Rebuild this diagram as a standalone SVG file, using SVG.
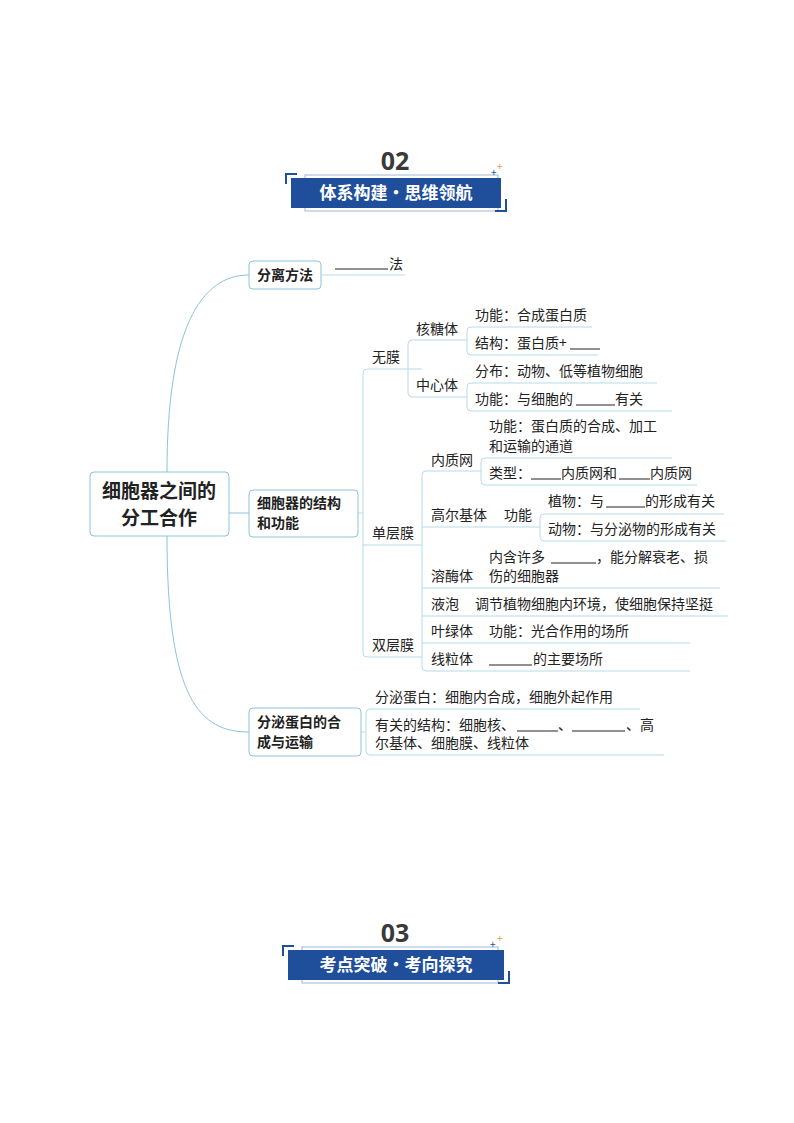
<svg xmlns="http://www.w3.org/2000/svg" width="794" height="1123" viewBox="0 0 794 1123">
<style>
text{font-family:"Noto Sans CJK SC","Noto Sans",sans-serif;fill:#222}
.t{font-size:14px}
.b{font-size:14px;font-weight:bold}
.r{font-size:19px;font-weight:bold}
.num{font-size:25px;font-weight:bold;fill:#3a3a3a;font-family:"Open Sans","Noto Sans",sans-serif}
.hd{font-size:17px;font-weight:bold;fill:#fff}
.ln{fill:none;stroke:#b6dbe8;stroke-width:1}
.cv{fill:none;stroke:#8cc3da;stroke-width:1}
.bx{fill:#fff;stroke:#8cc3da;stroke-width:1}
.bl{stroke:#222;stroke-width:1}
.br{fill:none;stroke:#1f4e9a;stroke-width:2}
</style>
<rect width="794" height="1123" fill="#fff"/>
<g id="header02">
<text class="num" x="395" y="170" text-anchor="middle">02</text>
<rect x="305" y="175" width="193" height="36" fill="none" stroke="#9fb6d6" stroke-width="1"/>
<rect x="291" y="178" width="210" height="30" fill="#1f4e9a"/>
<path class="br" d="M286 184 V174 H297"/>
<path class="br" d="M506 199 V211 H495"/>
<text x="491" y="176" font-size="10" style="fill:#1f4e9a">+</text>
<text x="497" y="170" font-size="10" style="fill:#e0a040">+</text>
<text class="hd" x="396" y="199" text-anchor="middle">体系构建•思维领航</text>
</g>
<g id="header03">
<text class="num" x="395" y="942" text-anchor="middle">03</text>
<rect x="302" y="947" width="196" height="36" fill="none" stroke="#9fb6d6" stroke-width="1"/>
<rect x="288" y="950" width="216" height="30" fill="#1f4e9a"/>
<path class="br" d="M283 956 V946 H294"/>
<path class="br" d="M509 971 V983 H498"/>
<text x="490" y="948" font-size="10" style="fill:#1f4e9a">+</text>
<text x="497" y="942" font-size="10" style="fill:#e0a040">+</text>
<text class="hd" x="396" y="971" text-anchor="middle">考点突破•考向探究</text>
</g>
<g id="connectors">
<path class="cv" d="M167 472 C167 330 200 275 249 275"/>
<path class="cv" d="M167 536 C167 700 200 732 249 732"/>
<path class="cv" d="M229 513 H249"/>
<path class="ln" d="M321 275 H405"/>
<path class="ln" d="M358 513 H363"/>
<path class="ln" d="M422 369 H367 Q363 369 363 373 V653 Q363 657 367 657 H422"/>
<path class="ln" d="M363 545 H422"/>
<path class="ln" d="M467 340 H412 Q408 340 408 344 V393 Q408 397 412 397 H467"/>
<path class="ln" d="M592 327 H471 Q467 327 467 331 V351 Q467 355 471 355 H598"/>
<path class="ln" d="M657 383 H471 Q467 383 467 387 V407 Q467 411 471 411 H672"/>
<path class="ln" d="M481 471 H426 Q422 471 422 475 V667 Q422 671 426 671 H690"/>
<path class="ln" d="M422 527 H540"/>
<path class="ln" d="M422 588 H720"/>
<path class="ln" d="M422 616 H728"/>
<path class="ln" d="M422 643 H690"/>
<path class="ln" d="M672 458 H485 Q481 458 481 462 V481 Q481 485 485 485 H697"/>
<path class="ln" d="M724 514 H544 Q540 514 540 518 V537 Q540 541 544 541 H726"/>
<path class="ln" d="M361 732 H366"/>
<path class="ln" d="M640 709 H370 Q366 709 366 713 V751 Q366 755 370 755 H664"/>
</g>
<g id="root"><rect class="bx" x="90" y="472" width="139" height="64" rx="4"/>
<text class="r" x="159" y="498" text-anchor="middle">细胞器之间的</text>
<text class="r" x="159" y="525" text-anchor="middle">分工合作</text></g>
<g id="n1"><rect class="bx" x="249" y="261" width="72" height="28" rx="4"/><text class="b" x="257" y="280">分离方法</text></g>
<g id="n1a"><line class="bl" x1="335" y1="269" x2="388" y2="269"/><text class="t" x="389" y="269">法</text></g>
<g id="n2"><rect class="bx" x="249" y="490" width="109" height="47" rx="4"/><text class="b" x="257" y="508">细胞器的结构</text><text class="b" x="257" y="528">和功能</text></g>
<g id="n3"><rect class="bx" x="249" y="708" width="112" height="48" rx="4"/><text class="b" x="257" y="727">分泌蛋白的合</text><text class="b" x="257" y="747">成与运输</text></g>
<g id="wm"><text class="t" x="372" y="362">无膜</text></g>
<g id="htt"><text class="t" x="416" y="334">核糖体</text></g>
<g id="htt1"><text class="t" x="475" y="320">功能：合成蛋白质</text></g>
<g id="htt2"><text class="t" x="475" y="348">结构：蛋白质+</text><line class="bl" x1="570" y1="349" x2="600" y2="349"/></g>
<g id="zxt"><text class="t" x="416" y="390">中心体</text></g>
<g id="zxt1"><text class="t" x="475" y="376">分布：动物、低等植物细胞</text></g>
<g id="zxt2"><text class="t" x="475" y="404">功能：与细胞的</text><line class="bl" x1="576" y1="405" x2="615" y2="405"/><text class="t" x="615" y="404">有关</text></g>
<g id="dcm"><text class="t" x="372" y="538">单层膜</text></g>
<g id="nzw"><text class="t" x="431" y="465">内质网</text></g>
<g id="nzw1"><text class="t" x="489" y="431">功能：蛋白质的合成、加工</text><text class="t" x="489" y="451">和运输的通道</text></g>
<g id="nzw2"><text class="t" x="489" y="478">类型：</text><line class="bl" x1="531" y1="479" x2="561" y2="479"/><text class="t" x="561" y="478">内质网和</text><line class="bl" x1="619" y1="479" x2="650" y2="479"/><text class="t" x="650" y="478">内质网</text></g>
<g id="gej"><text class="t" x="431" y="520">高尔基体</text><text class="t" x="504" y="520">功能</text></g>
<g id="gej1"><text class="t" x="548" y="506">植物：与</text><line class="bl" x1="606" y1="507" x2="645" y2="507"/><text class="t" x="645" y="506">的形成有关</text></g>
<g id="gej2"><text class="t" x="548" y="534">动物：与分泌物的形成有关</text></g>
<g id="rmt"><text class="t" x="431" y="581">溶酶体</text><text class="t" x="489" y="562">内含许多</text><line class="bl" x1="551" y1="563" x2="596" y2="563"/><text class="t" x="596" y="562">，能分解衰老、损</text><text class="t" x="489" y="581">伤的细胞器</text></g>
<g id="yp"><text class="t" x="431" y="609">液泡</text><text class="t" x="475" y="609">调节植物细胞内环境，使细胞保持坚挺</text></g>
<g id="scm"><text class="t" x="372" y="650">双层膜</text></g>
<g id="ylt"><text class="t" x="431" y="636">叶绿体</text><text class="t" x="489" y="636">功能：光合作用的场所</text></g>
<g id="xlt"><text class="t" x="431" y="664">线粒体</text><line class="bl" x1="489" y1="665" x2="532" y2="665"/><text class="t" x="533" y="664">的主要场所</text></g>
<g id="fm1"><text class="t" x="375" y="702">分泌蛋白：细胞内合成，细胞外起作用</text></g>
<g id="fm2"><text class="t" x="375" y="730">有关的结构：细胞核、</text><line class="bl" x1="517" y1="731" x2="558" y2="731"/><text class="t" x="558" y="730">、</text><line class="bl" x1="572" y1="731" x2="625" y2="731"/><text class="t" x="626" y="730">、高</text><text class="t" x="375" y="748">尔基体、细胞膜、线粒体</text></g>
</svg>
